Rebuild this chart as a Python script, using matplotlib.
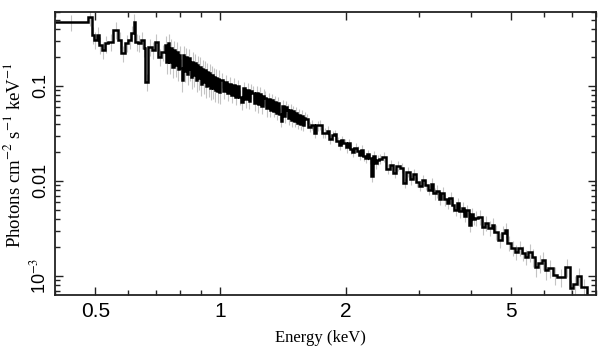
import numpy as np
import matplotlib
matplotlib.use("Agg")
import matplotlib.pyplot as plt
from matplotlib.ticker import NullFormatter, LogLocator

# Unfolded spectrum: bin edges (keV) and flux per bin
edges = [0.40, 0.480, 0.491, 0.497, 0.504, 0.510, 0.518, 0.527, 0.537, 0.552,
         0.567, 0.578, 0.589, 0.600, 0.609, 0.618, 0.623, 0.634, 0.643, 0.653,
         0.660, 0.670, 0.683, 0.695, 0.708, 0.719,
         0.735, 0.741, 0.747, 0.753, 0.759, 0.765, 0.771, 0.777, 0.783, 0.789,
         0.795, 0.801, 0.807, 0.813, 0.819, 0.825, 0.831, 0.837, 0.843, 0.849,
         0.855, 0.861, 0.867, 0.873, 0.879, 0.885, 0.891, 0.897, 0.903, 0.909,
         0.915, 0.921, 0.927, 0.933, 0.939, 0.945, 0.951, 0.957, 0.963, 0.969,
         0.975, 0.981, 0.987, 0.993,
         1.000, 1.012, 1.024, 1.036, 1.048, 1.060, 1.072, 1.084, 1.096, 1.108,
         1.120, 1.132, 1.144, 1.156, 1.168, 1.180, 1.192, 1.204, 1.216, 1.228,
         1.240, 1.252, 1.264, 1.276, 1.288, 1.300, 1.312, 1.324, 1.336, 1.348,
         1.360, 1.372, 1.384, 1.396, 1.408, 1.420, 1.432, 1.444, 1.456, 1.468,
         1.480, 1.492, 1.504, 1.516, 1.528, 1.540, 1.552, 1.564, 1.576, 1.588,
         1.600, 1.625, 1.650, 1.675, 1.700, 1.725, 1.750, 1.775, 1.800, 1.825,
         1.850, 1.875, 1.900, 1.925, 1.950, 1.975, 2.000, 2.025, 2.050, 2.075,
         2.100, 2.125, 2.150, 2.175, 2.200, 2.225, 2.250, 2.275, 2.300, 2.325,
         2.350, 2.375,
         2.40, 2.45, 2.50, 2.55, 2.60, 2.65, 2.70, 2.75, 2.80, 2.85,
         2.90, 2.95, 3.00, 3.05, 3.10, 3.15, 3.20, 3.25, 3.30, 3.35,
         3.40, 3.45, 3.50, 3.55, 3.60, 3.65, 3.70, 3.75, 3.80, 3.85,
         3.90, 3.95, 4.00, 4.05,
         4.09, 4.155, 4.25, 4.32, 4.39, 4.49, 4.56, 4.64, 4.75, 4.83,
         4.90, 5.01, 5.10, 5.19, 5.30, 5.39, 5.48, 5.60, 5.70, 5.79,
         5.92, 6.02, 6.12, 6.29, 6.43, 6.72, 6.92, 7.03, 7.19, 7.35,
         7.61, 8.0]

flux = [0.469, 0.536, 0.344, 0.305, 0.344, 0.270, 0.239, 0.281, 0.293, 0.388,
        0.305, 0.221, 0.284, 0.305, 0.359, 0.475, 0.293, 0.284, 0.305, 0.251,
        0.110, 0.259, 0.239, 0.293, 0.203, 0.226,
        0.27, 0.18, 0.28, 0.18, 0.25, 0.16, 0.24, 0.165, 0.23, 0.15,
        0.21, 0.155, 0.115, 0.21, 0.145, 0.20, 0.135, 0.195, 0.15, 0.125,
        0.18, 0.13, 0.175, 0.115, 0.165, 0.12, 0.16, 0.105, 0.15, 0.11,
        0.148, 0.10, 0.14, 0.103, 0.136, 0.094, 0.13, 0.096, 0.125, 0.090,
        0.122, 0.089, 0.118, 0.087,
        0.116, 0.088, 0.110, 0.084, 0.106, 0.080, 0.102, 0.077, 0.099, 0.076,
        0.068, 0.094, 0.072, 0.091, 0.070, 0.088, 0.084, 0.066, 0.084, 0.064,
        0.082, 0.062, 0.078, 0.075, 0.058, 0.073, 0.056, 0.071, 0.055, 0.068,
        0.052, 0.066, 0.051, 0.043, 0.062, 0.048, 0.060, 0.056, 0.046, 0.056,
        0.044, 0.054, 0.043, 0.052, 0.041, 0.050, 0.040, 0.048, 0.039, 0.046,
        0.0454, 0.0373, 0.0390, 0.0321, 0.0384, 0.0389, 0.0318, 0.0320, 0.0337, 0.0275,
        0.0302, 0.0309, 0.0262, 0.0240, 0.0268, 0.0249, 0.0226, 0.0248, 0.0216, 0.0201,
        0.0224, 0.0207, 0.0187, 0.0211, 0.0183, 0.0175, 0.0190, 0.0173, 0.0112, 0.0183,
        0.0153, 0.0166,
        0.0172, 0.0178, 0.0134, 0.0148, 0.0122, 0.0145, 0.0137, 0.0096, 0.0125, 0.0104,
        0.0119, 0.0098, 0.0089, 0.0102, 0.0091, 0.0080, 0.0093, 0.0074, 0.0078, 0.0065,
        0.0075, 0.0064, 0.0059, 0.0066, 0.0056, 0.0050, 0.0058, 0.0048, 0.0052, 0.0043,
        0.0049, 0.0034, 0.0045, 0.0040,
        0.00408, 0.00421, 0.00330, 0.00361, 0.00320, 0.00344, 0.00292, 0.00239, 0.00284, 0.00305,
        0.00222, 0.00197, 0.00179, 0.00197, 0.00175, 0.00158, 0.00179, 0.00158, 0.00124, 0.00137,
        0.00147, 0.00116, 0.00121, 0.00103, 0.00098, 0.00124, 0.00075, 0.00082, 0.00100, 0.00077,
        0.0004]

# typical fractional 1-sigma error, read per energy band
err_band_lo = [0.40, 0.735, 1.0, 1.3, 1.6, 2.4, 3.2, 4.09, 5.5]
err_band_frac = [0.20, 0.25, 0.18, 0.15, 0.12, 0.12, 0.15, 0.18, 0.22]

x_ticks = [0.5, 1, 2, 5]
x_ticklabels = ["0.5", "1", "2", "5"]
y_ticks = [1e-3, 1e-2, 0.1]
y_ticklabels = ["10$^{-3}$", "0.01", "0.1"]

edges = np.array(edges)
flux = np.array(flux)
centres = np.sqrt(edges[:-1] * edges[1:])
band = np.searchsorted(err_band_lo, centres, side='right') - 1
yerr = flux * np.array(err_band_frac)[band]

plt.rcParams['mathtext.fontset'] = 'stix'
serif = ['Liberation Serif', 'DejaVu Serif']
sans_narrow = ['Liberation Sans Narrow', 'Liberation Sans', 'DejaVu Sans']
sans = ['Liberation Sans', 'DejaVu Sans']

fig = plt.figure(figsize=(6.08, 3.57), dpi=100)
ax = fig.add_axes([55/608, 62/357, 541/608, 283/357])

#error bars first, then the step line on top
ax.errorbar(centres, flux, yerr=yerr, fmt='none', ecolor='#c4c4c4',
            elinewidth=0.8, zorder=1)
ax.stairs(flux, edges, baseline=None, color='black', lw=1.8, zorder=2)

ax.set_xscale('log')
ax.set_yscale('log')
ax.set_xlim(0.4, 8.0)
ax.set_ylim(6.3e-4, 0.6)

ax.set_xticks(x_ticks)
ax.set_xticklabels(x_ticklabels, family=sans_narrow, fontsize=15)
ax.xaxis.set_minor_locator(LogLocator(base=10, subs=np.arange(1, 10)))
ax.xaxis.set_minor_formatter(NullFormatter())
ax.set_yticks(y_ticks)
ax.set_yticklabels(y_ticklabels, family=sans, fontsize=13, rotation=90, va='center')
ax.yaxis.set_minor_locator(LogLocator(base=10, subs=np.arange(1, 10)))
ax.yaxis.set_minor_formatter(NullFormatter())

ax.tick_params(which='both', direction='in', top=True, right=True, color='#222222')
ax.tick_params(which='major', length=6, width=1.0)
ax.tick_params(which='minor', length=3.5, width=1.0)
ax.tick_params(axis='x', which='major', pad=5)
ax.tick_params(axis='y', which='major', pad=4)
for sp in ax.spines.values():
    sp.set_linewidth(1.3)
    sp.set_color('#222222')

ax.set_xlabel("Energy (keV)", family=serif, fontsize=12)
ax.set_ylabel("Photons cm$^{-2}$ s$^{-1}$ keV$^{-1}$", family=serif, fontsize=13.5)
ax.xaxis.set_label_coords(0.49, -0.125)
ax.yaxis.set_label_coords(-0.058, 0.495)

fig.savefig("out.png", dpi=100)
